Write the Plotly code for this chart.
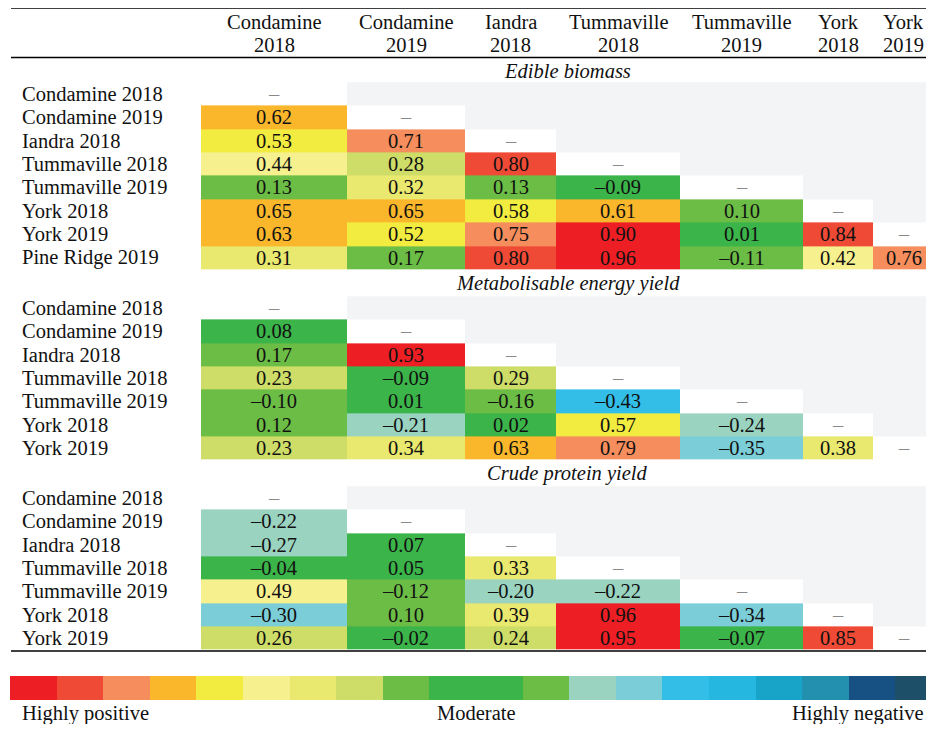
import plotly.graph_objects as go

# ---------------- data ----------------
COLS = ["Condamine 2018", "Condamine 2019", "Iandra 2018", "Tummaville 2018",
        "Tummaville 2019", "York 2018", "York 2019"]

ROWS_EB = ["Condamine 2018", "Condamine 2019", "Iandra 2018", "Tummaville 2018",
           "Tummaville 2019", "York 2018", "York 2019", "Pine Ridge 2019"]
ROWS_ME = ROWS_EB[:7]
ROWS_CP = ROWS_EB[:7]

# lower-triangle values, one list per row (first row has none)
EB_VALUES = [
    [],
    [0.62],
    [0.53, 0.71],
    [0.44, 0.28, 0.80],
    [0.13, 0.32, 0.13, -0.09],
    [0.65, 0.65, 0.58, 0.61, 0.10],
    [0.63, 0.52, 0.75, 0.90, 0.01, 0.84],
    [0.31, 0.17, 0.80, 0.96, -0.11, 0.42, 0.76],
]
ME_VALUES = [
    [],
    [0.08],
    [0.17, 0.93],
    [0.23, -0.09, 0.29],
    [-0.10, 0.01, -0.16, -0.43],
    [0.12, -0.21, 0.02, 0.57, -0.24],
    [0.23, 0.34, 0.63, 0.79, -0.35, 0.38],
]
CP_VALUES = [
    [],
    [-0.22],
    [-0.27, 0.07],
    [-0.04, 0.05, 0.33],
    [0.49, -0.12, -0.20, -0.22],
    [-0.30, 0.10, 0.39, 0.96, -0.34],
    [0.26, -0.02, 0.24, 0.95, -0.07, 0.85],
]
SECTION_TITLES = ["Edible biomass", "Metabolisable energy yield", "Crude protein yield"]

# legend bins (edges, from highly positive to highly negative)
LEGEND_EDGES = [1.0, 0.9, 0.8, 0.7, 0.6, 0.5, 0.4, 0.3, 0.2, 0.1,
                -0.1, -0.2, -0.3, -0.4, -0.5, -0.6, -0.7, -0.8, -0.9, -1.0]
LEGEND_LABELS = ["Highly positive", "Moderate", "Highly negative"]

# ---------------- style ----------------
OFF = 8                      # page (body) margin around the plot
W, H = 934 - 2 * OFF, 732 - 2 * OFF
FONT = "Liberation Serif"
FS = 20.5
COL_WIDTHS = [146, 118, 91, 124, 123, 70, 61]
MODERATE = "#3BB44A"
POS_COLORS = [MODERATE, "#6CBD45", "#CDDD67", "#E9E86F", "#F6F08E", "#F3EC40",
              "#FBB72C", "#F58D5C", "#EF4A35", "#ED1F24"]
NEG_COLORS = [MODERATE, "#6CBD45", "#9AD4C0", "#7BCED8", "#33BEE8", "#26B7E0",
              "#18A3C9", "#2390B0", "#175083", "#1D5068"]
GRAY = "#F3F4F6"
EPS = 0.0005


def px(p):
    return (p - OFF) / W


def py(p):
    return 1 - (p - OFF) / H


def build_colorscale():
    segs = []
    for k in range(9, 0, -1):  # negative bins
        lo = -1.0 if k == 9 else -(k + 1) / 10 + EPS
        hi = -k / 10 + EPS
        segs.append((lo, hi, NEG_COLORS[k]))
    segs.append((-0.1 + EPS, 0.1 - EPS, MODERATE))
    for k in range(1, 10):
        lo = k / 10 - EPS
        hi = 1.0 if k == 9 else (k + 1) / 10 - EPS
        segs.append((lo, hi, POS_COLORS[k]))
    cs = []
    for lo, hi, c in segs:
        cs.append([(lo + 1) / 2, c])
        cs.append([(hi + 1) / 2, c])
    return cs


CS = build_colorscale()


def fmt(v):
    return f"{v:.2f}".replace("-", "\u2013")


x_edges = [0]
for w in COL_WIDTHS:
    x_edges.append(x_edges[-1] + w)
x_centers = [(x_edges[i] + x_edges[i + 1]) / 2 for i in range(len(COL_WIDTHS))]
x_right = W + OFF - 201  # visible extent of the table area in axis units (1 unit = 1 px)

fig = go.Figure()
sections = [(ROWS_EB, EB_VALUES, "y"), (ROWS_ME, ME_VALUES, "y2"), (ROWS_CP, CP_VALUES, "y3")]
ncol = len(COLS)

for rows, vals, yax in sections:
    z, txt, mask, mtxt = [], [], [], []
    for i, rv in enumerate(vals):
        zr, tr, mr, mt = [], [], [], []
        for j in range(ncol):
            if j < len(rv):
                zr.append(rv[j]); tr.append(fmt(rv[j])); mr.append(None); mt.append("")
            elif j == i:
                zr.append(None); tr.append(""); mr.append(0); mt.append("\u2013")
            else:
                zr.append(None); tr.append(""); mr.append(1); mt.append("")
        z.append(zr); txt.append(tr); mask.append(mr); mtxt.append(mt)
    fig.add_trace(go.Heatmap(
        z=mask, x=x_edges, y=rows, text=mtxt, texttemplate="%{text}",
        textfont=dict(family=FONT, size=FS, color="#8a8a8a"),
        colorscale=[[0, "#FFFFFF"], [1, GRAY]], zmin=0, zmax=1,
        showscale=False, hoverinfo="skip", xaxis="x", yaxis=yax))
    fig.add_trace(go.Heatmap(
        z=z, x=x_edges, y=rows, text=txt, texttemplate="%{text}",
        textfont=dict(family=FONT, size=FS, color="#111111"),
        colorscale=CS, zmin=-1, zmax=1,
        showscale=False, xaxis="x", yaxis=yax,
        hovertemplate="%{y} vs %{x}: %{z:.2f}<extra></extra>"))

# legend strip
leg_x = [1 - e for e in LEGEND_EDGES]
leg_z = [[(LEGEND_EDGES[i] + LEGEND_EDGES[i + 1]) / 2 for i in range(len(LEGEND_EDGES) - 1)]]
fig.add_trace(go.Heatmap(z=leg_z, x=leg_x, y=[0], colorscale=CS, zmin=-1, zmax=1,
                         showscale=False, hoverinfo="skip", xaxis="x2", yaxis="y4"))

hidden = dict(visible=False, showgrid=False, zeroline=False, fixedrange=True)
fig.update_layout(
    width=W, height=H, margin=dict(l=0, r=0, t=0, b=0),
    paper_bgcolor="white", plot_bgcolor="rgba(0,0,0,0)", showlegend=False,
    font=dict(family=FONT, size=FS, color="#111111"),
    xaxis=dict(domain=[px(201), 1], range=[0, x_right], anchor="y", **hidden),
    yaxis=dict(domain=[py(271), py(81)], anchor="x", type="category", autorange="reversed", **hidden),
    yaxis2=dict(domain=[py(461), py(295)], anchor="x", type="category", autorange="reversed", **hidden),
    yaxis3=dict(domain=[py(651), py(485)], anchor="x", type="category", autorange="reversed", **hidden),
    xaxis2=dict(domain=[px(10), 1], range=[0, 2.0 * (W + OFF - 10) / 932], anchor="y4", **hidden),
    yaxis4=dict(domain=[py(700), py(676)], anchor="x2", **hidden),
)

ann = []
# column headers
for c, xc in zip(COLS, x_centers):
    name, year = c.rsplit(" ", 1)
    ann.append(dict(x=xc, xref="x", y=py(22), yref="paper", text=name, showarrow=False,
                    xanchor="center", yanchor="middle"))
    ann.append(dict(x=xc, xref="x", y=py(45), yref="paper", text=year, showarrow=False,
                    xanchor="center", yanchor="middle"))
# section titles
for t, yp in zip(SECTION_TITLES, [71, 283, 473]):
    ann.append(dict(x=x_edges[-1] / 2, xref="x", y=py(yp), yref="paper", text=f"<i>{t}</i>",
                    showarrow=False, xanchor="center", yanchor="middle"))
# row labels
for rows, _, yax in sections:
    for r in rows:
        ann.append(dict(x=px(20), xref="paper", y=r, yref=yax, text=r, showarrow=False,
                        xanchor="left", yanchor="middle"))
# legend labels
ann.append(dict(x=px(20), xref="paper", y=py(713), yref="paper", text=LEGEND_LABELS[0],
                showarrow=False, xanchor="left", yanchor="middle"))
ann.append(dict(x=1.0, xref="x2", y=py(713), yref="paper", text=LEGEND_LABELS[1],
                showarrow=False, xanchor="center", yanchor="middle"))
ann.append(dict(x=1.0, xref="paper", y=py(713), yref="paper", text=LEGEND_LABELS[2],
                showarrow=False, xanchor="right", yanchor="middle"))
fig.update_layout(annotations=ann)

shapes = []
for yp in [8, 57.5, 651]:
    shapes.append(dict(type="line", xref="paper", yref="paper", x0=px(11), x1=1,
                       y0=py(yp), y1=py(yp), line=dict(color="black", width=1.5)))
fig.update_layout(shapes=shapes)

fig.write_html("out.html")
